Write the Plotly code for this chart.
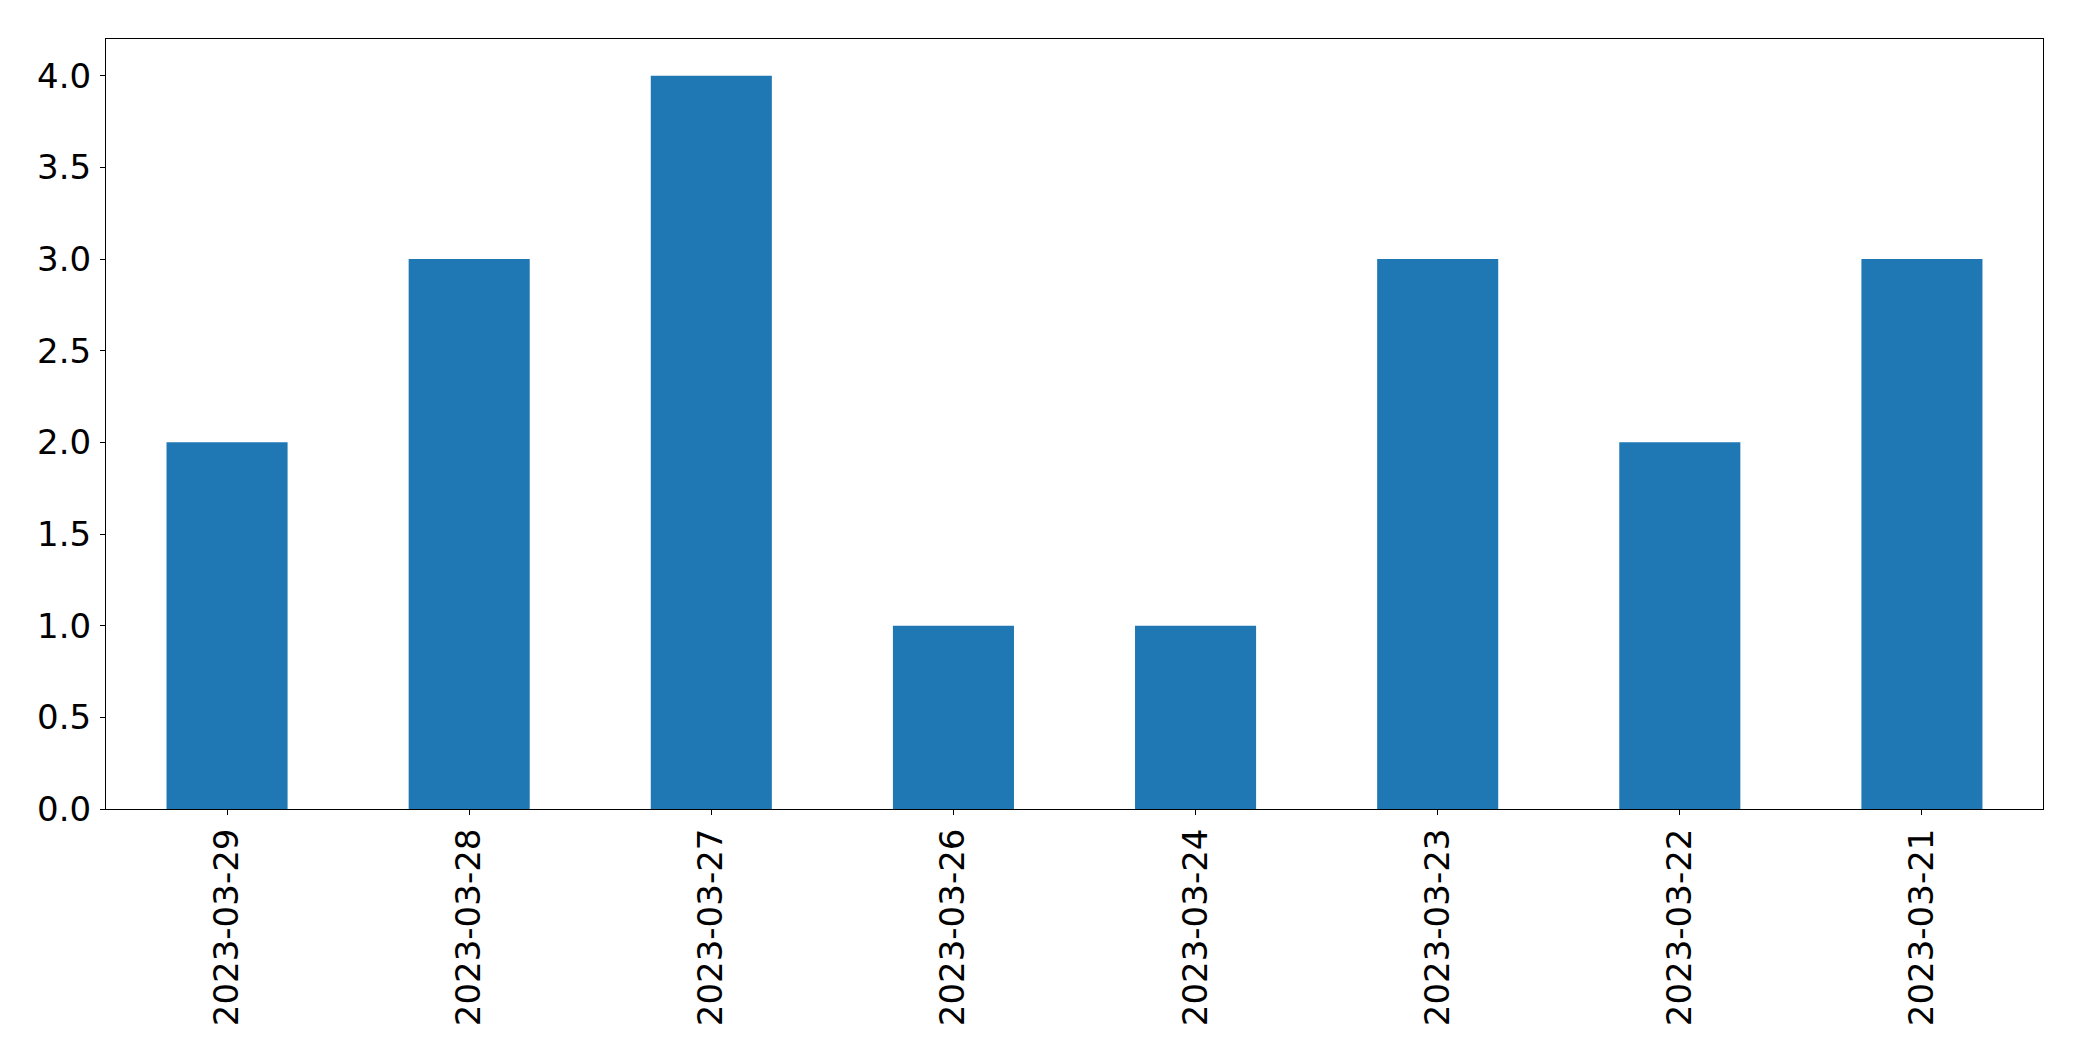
import plotly.graph_objects as go

dates = ["2023-03-29", "2023-03-28", "2023-03-27", "2023-03-26",
         "2023-03-24", "2023-03-23", "2023-03-22", "2023-03-21"]
counts = [2, 3, 4, 1, 1, 3, 2, 3]
y_ticks = [0.0, 0.5, 1.0, 1.5, 2.0, 2.5, 3.0, 3.5, 4.0]
y_tick_text = [f"{v:.1f}" for v in y_ticks]

fig = go.Figure(go.Bar(x=dates, y=counts, marker_color="#1f77b4",
                       marker_line_width=0, width=0.5))

font = dict(family="DejaVu Sans", size=34, color="black")
fig.update_layout(
    width=2082, height=1061,
    margin=dict(l=106, r=39, t=39, b=252, pad=0),
    paper_bgcolor="white", plot_bgcolor="white",
    showlegend=False,
)
fig.update_xaxes(
    type="category", range=[-0.5, 7.5],
    showline=True, linecolor="black", linewidth=1, mirror=True,
    ticks="outside", ticklen=5, tickwidth=1, tickcolor="black",
    tickangle=-90, tickfont=font, showgrid=False, zeroline=False,
    ticklabelstandoff=0,
)
fig.update_yaxes(
    range=[0, 4.2],
    tickvals=y_ticks, ticktext=y_tick_text,
    showline=True, linecolor="black", linewidth=1, mirror=True,
    ticks="outside", ticklen=5, tickwidth=1, tickcolor="black",
    tickfont=font, showgrid=False, zeroline=False,
    ticklabelstandoff=2,
)
fig.write_html("out.html", config={"displayModeBar": False},
               post_script="document.body.style.margin='0';document.body.style.overflow='hidden';")
